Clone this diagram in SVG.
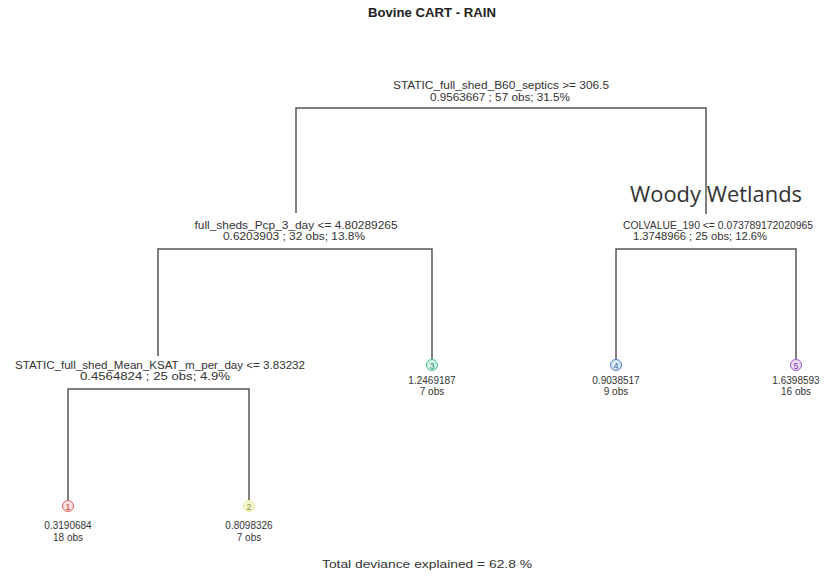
<svg xmlns="http://www.w3.org/2000/svg" width="825" height="579" viewBox="0 0 825 579">
<style>
text{font-family:"Liberation Sans",Arial,sans-serif;fill:#333;}
.t{font-size:10px;text-anchor:middle;}
.title{font-size:12px;font-weight:bold;text-anchor:middle;fill:#222;}
.ww{font-family:"Open Sans","Liberation Sans",sans-serif;font-size:21px;fill:#333;}
.edge{fill:none;stroke:#555;stroke-width:1.5;}
.leafnum{font-size:9px;text-anchor:middle;}
</style>
<rect width="825" height="579" fill="#fff"/>
<text class="title" x="432" y="17" textLength="128" lengthAdjust="spacingAndGlyphs">Bovine CART - RAIN</text>

<g id="connectors">
<path class="edge" d="M296,213 V108 H706 V214"/>
<path class="edge" d="M158,356 V249 H432 V359"/>
<path class="edge" d="M616,359 V249 H796 V359"/>
<path class="edge" d="M68,500 V389 H249 V500"/>
</g>

<g id="node-root">
<text class="t" x="501" y="89" textLength="216" lengthAdjust="spacingAndGlyphs">STATIC_full_shed_B60_septics &gt;= 306.5</text>
<text class="t" x="500" y="101" textLength="140" lengthAdjust="spacingAndGlyphs">0.9563667 ; 57 obs; 31.5%</text>
</g>

<g id="node-left">
<text class="t" x="296" y="229" textLength="203" lengthAdjust="spacingAndGlyphs">full_sheds_Pcp_3_day &lt;= 4.80289265</text>
<text class="t" x="294" y="240" textLength="142" lengthAdjust="spacingAndGlyphs">0.6203903 ; 32 obs; 13.8%</text>
</g>

<g id="node-right">
<text class="t" x="718" y="229" textLength="190" lengthAdjust="spacingAndGlyphs">COLVALUE_190 &lt;= 0.073789172020965</text>
<text class="t" x="700" y="240" textLength="134" lengthAdjust="spacingAndGlyphs">1.3748966 ; 25 obs; 12.6%</text>
</g>

<g id="label-woody">
<text class="ww" x="630" y="202" textLength="172" lengthAdjust="spacingAndGlyphs">Woody Wetlands</text>
</g>

<g id="node-leftleft">
<text class="t" x="160" y="369" textLength="290" lengthAdjust="spacingAndGlyphs">STATIC_full_shed_Mean_KSAT_m_per_day &lt;= 3.83232</text>
<text class="t" x="155" y="380" textLength="150" lengthAdjust="spacingAndGlyphs">0.4564824 ; 25 obs; 4.9%</text>
</g>

<g id="leaf-3">
<circle cx="432" cy="365" r="5.5" fill="#d8f5ea" stroke="#3cb88a" stroke-width="1"/>
<text class="leafnum" x="432" y="368.5" fill="#2a8a66" style="fill:#2a8a66">3</text>
<text class="t" x="432" y="384">1.2469187</text>
<text class="t" x="432" y="395">7 obs</text>
</g>

<g id="leaf-4">
<circle cx="616" cy="365" r="5.5" fill="#dbe8f7" stroke="#4a7fc0" stroke-width="1"/>
<text class="leafnum" x="616" y="368.5" style="fill:#3a6aa8">4</text>
<text class="t" x="616" y="384">0.9038517</text>
<text class="t" x="616" y="395">9 obs</text>
</g>

<g id="leaf-5">
<circle cx="796" cy="365" r="5.5" fill="#ecdcf5" stroke="#9a5cc8" stroke-width="1"/>
<text class="leafnum" x="796" y="368.5" style="fill:#7a3ca8">5</text>
<text class="t" x="796" y="384">1.6398593</text>
<text class="t" x="796" y="395">16 obs</text>
</g>

<g id="leaf-1">
<circle cx="68" cy="506" r="5.5" fill="#fbe0e0" stroke="#e06060" stroke-width="1"/>
<text class="leafnum" x="68" y="509.5" style="fill:#c04040">1</text>
<text class="t" x="68" y="529">0.3190684</text>
<text class="t" x="68" y="541">18 obs</text>
</g>

<g id="leaf-2">
<circle cx="249" cy="506" r="5.5" fill="#f8f8d0" stroke="#e8e8a0" stroke-width="1"/>
<text class="leafnum" x="249" y="509.5" style="fill:#8a8a40">2</text>
<text class="t" x="249" y="529">0.8098326</text>
<text class="t" x="249" y="541">7 obs</text>
</g>

<text class="t" x="427" y="568" style="font-size:11px" textLength="210" lengthAdjust="spacingAndGlyphs">Total deviance explained = 62.8 %</text>
</svg>
